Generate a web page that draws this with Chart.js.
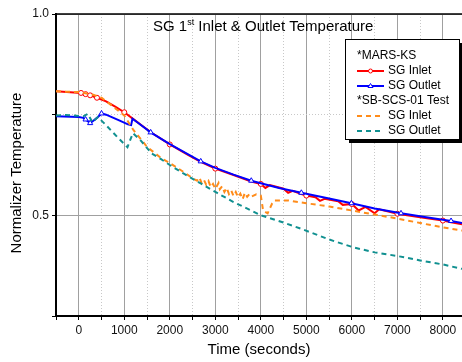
<!DOCTYPE html>
<html>
<head>
<meta charset="utf-8">
<script src="https://cdn.jsdelivr.net/npm/chart.js@4"></script>
<style>
  body { margin: 0; background: #fff; }
  #wrap { width: 462px; height: 362px; }
</style>
</head>
<body>
<div id="wrap"><canvas id="myChart" width="462" height="362"></canvas></div>
<script>
// MARS-KS results
const marsInletT = [-500, 50, 150, 250, 400, 600, 800, 1000, 1200, 1400, 1600, 2000, 2400, 2680, 3000, 3400, 3790, 4000, 4100, 4200, 4500, 4600, 4700, 4890, 5000, 5200, 5300, 5400, 5700, 5800, 6000, 6150, 6300, 6500, 6600, 7000, 7500, 8000, 8180, 8420];
const marsInletV = [0.808, 0.804, 0.801, 0.798, 0.792, 0.783, 0.770, 0.756, 0.739, 0.722, 0.705, 0.676, 0.650, 0.633, 0.616, 0.600, 0.584, 0.578, 0.568, 0.575, 0.566, 0.556, 0.561, 0.553, 0.549, 0.545, 0.536, 0.541, 0.535, 0.526, 0.528, 0.512, 0.521, 0.505, 0.515, 0.504, 0.495, 0.487, 0.483, 0.478];
const marsOutletT = [-500, 0, 100, 150, 250, 300, 400, 500, 600, 700, 900, 1080, 1150, 1180, 1300, 1580, 2000, 2680, 3000, 3400, 3790, 4400, 4890, 5500, 5990, 6500, 7080, 7600, 8180, 8420];
const marsOutletV = [0.746, 0.744, 0.742, 0.738, 0.729, 0.733, 0.742, 0.753, 0.750, 0.745, 0.735, 0.726, 0.724, 0.740, 0.730, 0.706, 0.677, 0.634, 0.618, 0.601, 0.586, 0.568, 0.556, 0.542, 0.530, 0.517, 0.505, 0.496, 0.486, 0.481];
// SB-SCS-01 test data
const testInletT = [-500, 0, 300, 500, 700, 900, 1000, 1200, 1500, 1800, 2000, 2300, 2500, 2600, 2650, 2700, 2750, 2800, 2850, 2900, 2950, 3000, 3070, 3100, 3150, 3200, 3250, 3300, 3350, 3400, 3450, 3500, 3550, 3600, 3650, 3700, 3750, 3800, 3900, 4000, 4050, 4150, 4250, 4300, 4600, 5000, 5500, 6000, 6500, 7000, 7500, 8000, 8420];
const testInletV = [0.808, 0.806, 0.800, 0.792, 0.775, 0.757, 0.748, 0.712, 0.670, 0.643, 0.630, 0.608, 0.592, 0.586, 0.594, 0.580, 0.588, 0.576, 0.585, 0.570, 0.578, 0.566, 0.580, 0.565, 0.572, 0.558, 0.568, 0.553, 0.562, 0.548, 0.558, 0.545, 0.554, 0.540, 0.556, 0.546, 0.553, 0.547, 0.552, 0.549, 0.512, 0.505, 0.530, 0.537, 0.537, 0.530, 0.522, 0.512, 0.502, 0.492, 0.481, 0.470, 0.462];
const testOutletT = [-500, -300, 0, 100, 200, 300, 420, 600, 850, 1070, 1140, 1190, 1360, 1600, 1800, 2000, 2300, 2700, 3050, 3400, 3770, 4000, 4500, 4900, 5500, 6050, 6500, 7000, 7500, 8000, 8420];
const testOutletV = [0.748, 0.749, 0.747, 0.746, 0.752, 0.731, 0.744, 0.724, 0.694, 0.669, 0.690, 0.704, 0.686, 0.654, 0.640, 0.625, 0.604, 0.578, 0.555, 0.533, 0.513, 0.500, 0.482, 0.466, 0.440, 0.420, 0.408, 0.399, 0.388, 0.378, 0.367];

const inletMarks = [50, 150, 250, 400, 1000, 2000, 3000, 4000, 5000, 6000, 7000, 8000];
const outletMarks = [150, 250, 500, 1580, 2680, 3790, 4890, 5990, 7080, 8180];

const xTicks = [-500, 0, 500, 1000, 1500, 2000, 2500, 3000, 3500, 4000, 4500, 5000, 5500, 6000, 6500, 7000, 7500, 8000];
const yTicks = [0.25, 0.5, 0.75, 1.0];
const yLabels = { 0.5: '0.5', 1: '1.0' };

function pts(t, v) {
  return t.map((x, i) => ({ x: x, y: v[i] }));
}

const FONT = "'Liberation Sans', Arial, sans-serif";

const frame = {
  id: 'frame',
  afterDraw(chart) {
    const c = chart.ctx;
    const a = chart.chartArea;
    c.save();
    // top border
    c.strokeStyle = '#000';
    c.lineWidth = 1.5;
    c.beginPath();
    c.moveTo(a.left, a.top);
    c.lineTo(a.right, a.top);
    c.stroke();

    // y axis title
    c.save();
    c.translate(17, 173);
    c.rotate(-Math.PI / 2);
    c.font = '15px ' + FONT;
    c.fillStyle = '#000';
    c.textAlign = 'center';
    c.textBaseline = 'middle';
    c.fillText('Normalizer Temperature', 0, 0);
    c.restore();

    // title with superscript
    c.fillStyle = '#000';
    c.textBaseline = 'alphabetic';
    let x = 153;
    const y = 31;
    c.font = '15px ' + FONT;
    c.fillText('SG 1', x, y);
    x += c.measureText('SG 1').width;
    c.font = '9px ' + FONT;
    c.fillText('st', x, y - 6);
    x += c.measureText('st').width;
    c.font = '15px ' + FONT;
    c.fillText(' Inlet & Outlet Temperature', x, y);

    // legend box
    const bx = 345, by = 39, bw = 114, bh = 100;
    c.fillStyle = '#000';
    c.fillRect(bx + 4, by + 4, bw, bh);
    c.fillStyle = '#fff';
    c.fillRect(bx, by, bw, bh);
    c.strokeStyle = '#000';
    c.lineWidth = 1;
    c.strokeRect(bx + 0.5, by + 0.5, bw, bh);

    c.font = '12px ' + FONT;
    c.textBaseline = 'middle';
    c.fillStyle = '#000';
    const rows = [
      { t: '*MARS-KS', y: 56 },
      { t: 'SG Inlet', y: 71, ds: 0 },
      { t: 'SG Outlet', y: 86, ds: 1 },
      { t: '*SB-SCS-01 Test', y: 101 },
      { t: 'SG Inlet', y: 116, ds: 2 },
      { t: 'SG Outlet', y: 131, ds: 3 }
    ];
    rows.forEach(r => {
      if (r.ds === undefined) {
        c.fillStyle = '#000';
        c.fillText(r.t, 357, r.y);
        return;
      }
      const d = chart.data.datasets[r.ds];
      c.save();
      c.strokeStyle = d.borderColor;
      c.lineWidth = d.borderWidth;
      c.setLineDash(d.borderDash || []);
      c.beginPath();
      c.moveTo(357, r.y);
      c.lineTo(384, r.y);
      c.stroke();
      c.setLineDash([]);
      c.lineWidth = 1;
      c.fillStyle = '#fff';
      if (r.ds === 0) {
        c.beginPath();
        c.arc(370.5, r.y, 2, 0, Math.PI * 2);
        c.fill();
        c.stroke();
      } else if (r.ds === 1) {
        c.beginPath();
        c.moveTo(370.5, r.y - 2.5);
        c.lineTo(373, r.y + 1.5);
        c.lineTo(368, r.y + 1.5);
        c.closePath();
        c.fill();
        c.stroke();
      }
      c.restore();
      c.fillStyle = '#000';
      c.fillText(r.t, 388, r.y);
    });
    c.restore();
  }
};

const ctx = document.getElementById('myChart');

new Chart(ctx, {
  type: 'line',
  data: {
    datasets: [{
      label: 'SG Inlet',
      data: pts(marsInletT, marsInletV),
      borderColor: '#ff0000',
      backgroundColor: '#ffffff',
      borderWidth: 2,
      pointStyle: 'circle',
      pointRadius: c => inletMarks.includes(c.raw && c.raw.x) ? 2.5 : 0,
      pointBorderWidth: 1,
      order: 4
    }, {
      label: 'SG Outlet',
      data: pts(marsOutletT, marsOutletV),
      borderColor: '#0000ff',
      backgroundColor: '#ffffff',
      borderWidth: 2,
      pointStyle: 'triangle',
      pointRadius: c => outletMarks.includes(c.raw && c.raw.x) ? 3 : 0,
      pointBorderWidth: 1,
      order: 3
    }, {
      label: 'SG Inlet',
      data: pts(testInletT, testInletV),
      borderColor: '#ff8c1a',
      borderWidth: 2,
      borderDash: [5, 4],
      pointRadius: 0,
      order: 2
    }, {
      label: 'SG Outlet',
      data: pts(testOutletT, testOutletV),
      borderColor: '#109090',
      borderWidth: 2,
      borderDash: [5, 4],
      pointRadius: 0,
      order: 1
    }]
  },
  options: {
    responsive: false,
    animation: false,
    layout: { padding: { top: 14, right: 0, left: 0, bottom: 0 } },
    plugins: {
      legend: { display: false },
      title: { display: false },
      tooltip: { enabled: false }
    },
    scales: {
      x: {
        type: 'linear',
        min: -500,
        max: 8420,
        afterBuildTicks: s => { s.ticks = xTicks.map(v => ({ value: v })); },
        afterFit: s => { s.height = 46; },
        ticks: {
          autoSkip: false,
          maxRotation: 0,
          padding: 3,
          color: '#111',
          font: { family: FONT, size: 12 },
          callback: v => (v % 1000 === 0 ? String(v) : '')
        },
        grid: {
          color: c => (c.tick && c.tick.value % 1000 !== 0 ? '#c8c8c8' : '#a0a0a0'),
          lineWidth: 1,
          tickLength: 4,
          tickColor: '#000'
        },
        border: {
          color: '#000',
          width: 2,
          dash: c => (c.tick && c.tick.value % 1000 !== 0 ? [1, 2] : [])
        },
        title: {
          display: true,
          text: 'Time (seconds)',
          color: '#000',
          font: { family: FONT, size: 15 },
          padding: { top: 0, bottom: 3 }
        }
      },
      y: {
        min: 0.25,
        max: 1.0,
        afterBuildTicks: s => { s.ticks = yTicks.map(v => ({ value: v })); },
        afterFit: s => { s.width = 56; },
        ticks: {
          padding: 3,
          color: '#111',
          font: { family: FONT, size: 12 },
          callback: v => yLabels[v] || ''
        },
        grid: {
          color: c => (c.tick && c.tick.value === 0.75 ? '#c8c8c8' : '#a0a0a0'),
          lineWidth: 1,
          tickLength: 4,
          tickColor: '#000'
        },
        border: {
          color: '#000',
          width: 2,
          dash: c => (c.tick && c.tick.value === 0.75 ? [1, 2] : [])
        },
        title: { display: false }
      }
    }
  },
  plugins: [frame]
});
</script>
</body>
</html>
